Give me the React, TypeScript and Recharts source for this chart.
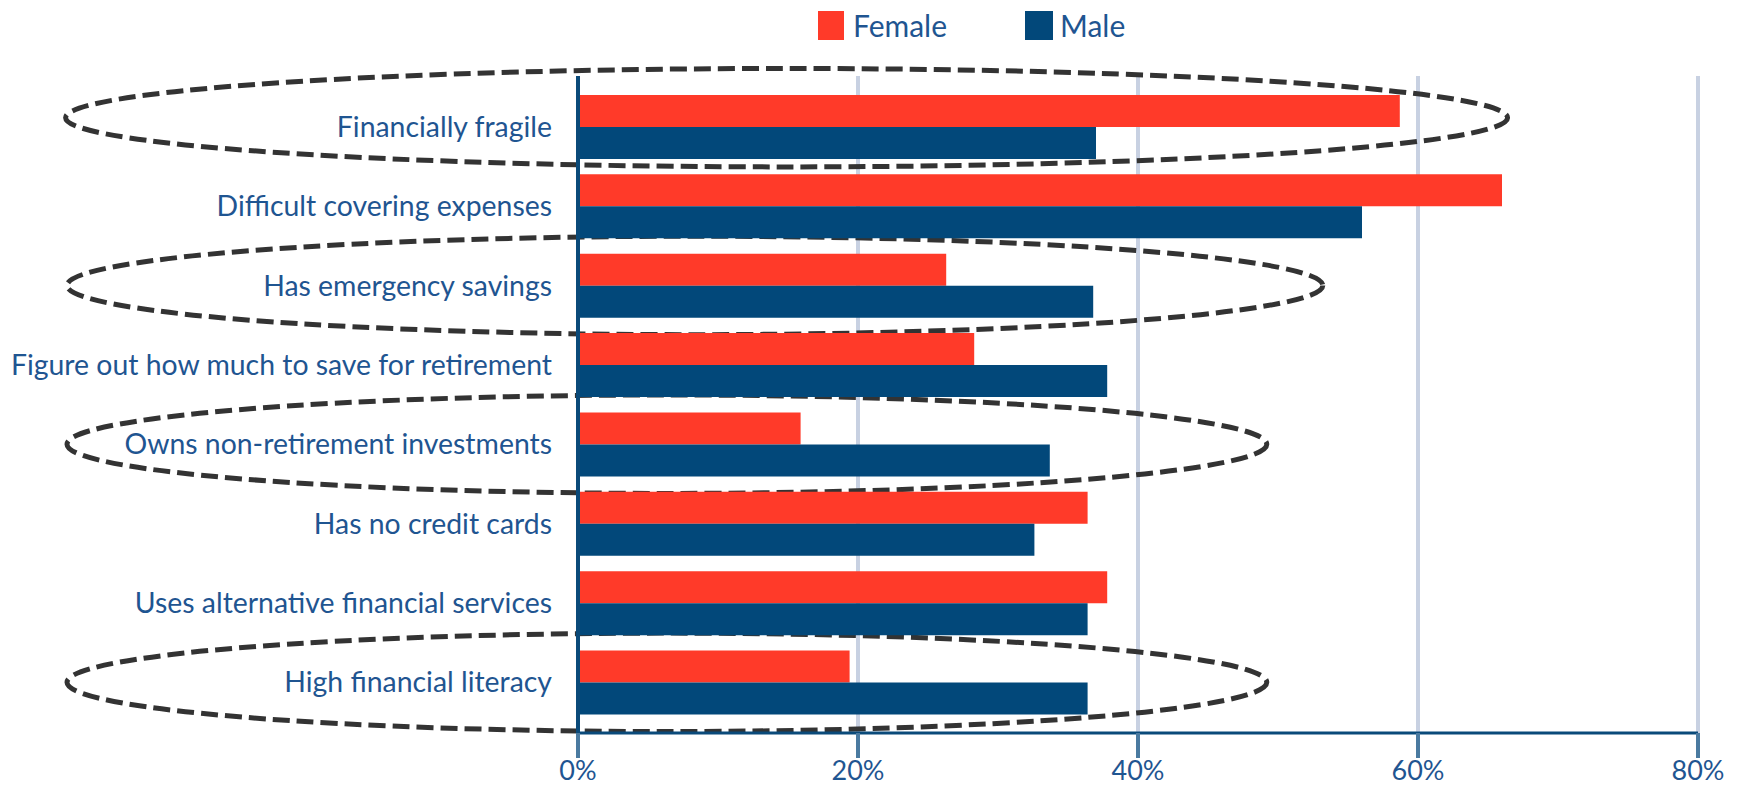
import { BarChart, Bar, XAxis, YAxis, CartesianGrid, Legend, ReferenceArea } from 'recharts';

const categories = [
  'Financially fragile',
  'Difficult covering expenses',
  'Has emergency savings',
  'Figure out how much to save for retirement',
  'Owns non-retirement investments',
  'Has no credit cards',
  'Uses alternative financial services',
  'High financial literacy',
];
const female = [58.7, 66.0, 26.3, 28.3, 15.9, 36.4, 37.8, 19.4];
const male = [37.0, 56.0, 36.8, 37.8, 33.7, 32.6, 36.4, 36.4];
const xTicks = [0, 20, 40, 60, 80];

// dashed ovals drawn round some rows (extent in % units)
const highlights = [
  { category: 'Financially fragile', from: -36.6, to: 66.4, lift: -9 },
  { category: 'Has emergency savings', from: -36.5, to: 53.2, lift: 0 },
  { category: 'Owns non-retirement investments', from: -36.5, to: 49.2, lift: 0 },
  { category: 'High financial literacy', from: -36.5, to: 49.2, lift: 0 },
];

const data = categories.map((name, i) => ({ name, female: female[i], male: male[i] }));

const FONT = 'Lato, "Open Sans", sans-serif';
const TEXT = '#1f5591';
const RED = '#ff3a29';
const BLUE = '#02487a';

const Oval = (lift: number) => (props: any) => {
  const { x, y, width, height } = props;
  return (
    <ellipse
      cx={x + width / 2}
      cy={y + height / 2 + lift}
      rx={width / 2}
      ry={height * 0.62}
      fill="none"
      stroke="#333333"
      strokeWidth={5}
      strokeDasharray="17 7"
    />
  );
};

const LegendBox = () => (
  <div style={{ height: 50, position: 'relative', fontFamily: FONT, fontSize: 30, color: TEXT }}>
    <div style={{ position: 'absolute', left: 818, top: 11, width: 26, height: 29, background: RED }} />
    <div style={{ position: 'absolute', left: 853, top: 7, lineHeight: '36px' }}>Female</div>
    <div style={{ position: 'absolute', left: 1025, top: 11, width: 28, height: 29, background: BLUE }} />
    <div style={{ position: 'absolute', left: 1060, top: 7, lineHeight: '36px' }}>Male</div>
  </div>
);

export default function App() {
  return (
    <div style={{ position: 'absolute', left: 0, top: 0, background: '#fff' }}>
      <BarChart
        width={1750}
        height={792}
        data={data}
        layout="vertical"
        margin={{ top: 26, right: 52, left: 0, bottom: 0 }}
        barCategoryGap="10%"
        barGap={0}
      >
        <Legend verticalAlign="top" content={LegendBox} wrapperStyle={{ top: 0, left: 0, width: 1750 }} />
        <CartesianGrid horizontal={false} stroke="#c8d1e2" strokeWidth={4} />
        <XAxis
          type="number"
          domain={[0, 80]}
          ticks={xTicks}
          tickFormatter={(v: number) => `${v}%`}
          axisLine={{ stroke: '#0a4a7a', strokeWidth: 3 }}
          tickLine={{ stroke: '#4a7aa0', strokeWidth: 4 }}
          tickSize={25}
          tickMargin={3}
          height={59}
          tick={{ fill: TEXT, fontSize: 27, fontFamily: FONT }}
        />
        <YAxis
          type="category"
          dataKey="name"
          width={578}
          axisLine={{ stroke: '#0a4a7a', strokeWidth: 4 }}
          tickLine={false}
          tickSize={6}
          tickMargin={20}
          padding={{ top: 11, bottom: 11 }}
          interval={0}
          tick={{ fill: TEXT, fontSize: 28.4, fontFamily: FONT }}
        />
        <Bar dataKey="female" name="Female" fill={RED} isAnimationActive={false} />
        <Bar dataKey="male" name="Male" fill={BLUE} isAnimationActive={false} />
        {highlights.map((h) => (
          <ReferenceArea
            key={h.category}
            y1={h.category}
            y2={h.category}
            x1={h.from}
            x2={h.to}
            ifOverflow="visible"
            shape={Oval(h.lift)}
          />
        ))}
      </BarChart>
    </div>
  );
}
